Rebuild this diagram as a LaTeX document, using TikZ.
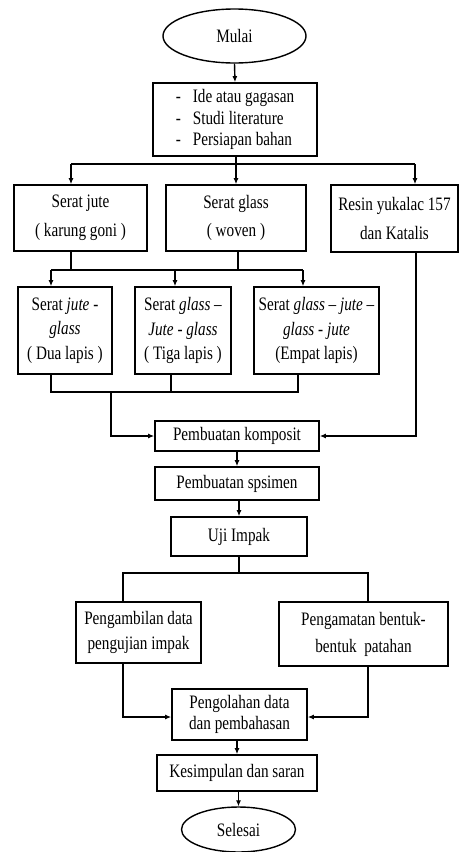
\documentclass[tikz,border=0pt]{standalone}
\usepackage{fontspec}
\setmainfont{Liberation Serif}[FakeStretch=0.8]
\usetikzlibrary{shapes.geometric,arrows.meta}
\begin{document}
\begin{tikzpicture}[x=1pt,y=-1pt,
  every node/.style={font=\fontsize{19}{21.5}\selectfont},
  box/.style={draw,line width=1.6pt,rectangle,inner sep=0pt,align=center},
  oval/.style={draw,line width=1.4pt,ellipse,inner sep=0pt},
  ln/.style={line width=1.4pt},
  arr/.style={line width=1.4pt,-{Latex[length=6pt,width=5pt]}}]
\useasboundingbox (0,0) rectangle (460,852);
\node[oval,minimum width=143pt,minimum height=54pt] (mulai) at (234.5,36) {Mulai};
\node[box,minimum width=164pt,minimum height=73pt,align=left] (ide) at (235,119.5)
  {\makebox[17pt][l]{-}Ide atau gagasan\\\makebox[17pt][l]{-}Studi literature\\\makebox[17pt][l]{-}Persiapan bahan};
\node[box,minimum width=133pt,minimum height=66pt,font=\fontsize{19}{28.5}\selectfont] (jute) at (80.5,218) {Serat jute\\( karung goni )};
\node[box,minimum width=140pt,minimum height=66pt,font=\fontsize{19}{28.5}\selectfont] (glass) at (236,218) {Serat glass\\( woven )};
\node[box,minimum width=127pt,minimum height=67pt,font=\fontsize{19}{28.5}\selectfont] (resin) at (394.5,218.5) {Resin yukalac 157\\dan Katalis};
\node[box,minimum width=94pt,minimum height=87pt,font=\fontsize{19}{24.5}\selectfont] (d1) at (65,330.5)
  {Serat \textit{jute} -\\\textit{glass}\\( Dua lapis )};
\node[box,minimum width=96pt,minimum height=87pt,font=\fontsize{19}{24.5}\selectfont] (d2) at (183,330.5)
  {Serat \textit{glass} –\\\textit{Jute} - \textit{glass}\\( Tiga lapis )};
\node[box,minimum width=125pt,minimum height=87pt,font=\fontsize{19}{24.5}\selectfont] (d3) at (316.5,330.5)
  {Serat \textit{glass} – \textit{jute} –\\\textit{glass} - \textit{jute}\\(Empat lapis)};
\node[box,minimum width=164pt,minimum height=30pt] (komp) at (237,436) {Pembuatan komposit};
\node[box,minimum width=164pt,minimum height=33pt] (spes) at (237,483.5) {Pembuatan spsimen};
\node[box,minimum width=136pt,minimum height=39pt] (uji) at (239,536.5) {Uji Impak};
\node[box,minimum width=125pt,minimum height=61pt,font=\fontsize{19}{25}\selectfont] (ambil) at (138.5,632.5) {Pengambilan data\\pengujian impak};
\node[box,minimum width=169pt,minimum height=64pt,font=\fontsize{19}{27}\selectfont] (amati) at (363.5,634) {Pengamatan bentuk-\\bentuk\ \ patahan};
\node[box,minimum width=135pt,minimum height=51pt] (olah) at (239.5,714.5) {Pengolahan data\\dan pembahasan};
\node[box,minimum width=160pt,minimum height=36pt] (kesim) at (237,773) {Kesimpulan dan saran};
\node[oval,minimum width=114pt,minimum height=45pt] (selesai) at (238.5,829.5) {Selesai};
% top
\draw[arr] (mulai.south) -- (ide.north);
\coordinate (s1) at (236,164);
\coordinate (s1l) at (71,164);
\coordinate (s1r) at (415,164);
\draw[ln] (ide.south -| s1) -- (s1);
\draw[ln] (s1l) -- (s1r);
\draw[arr] (s1l) -- (s1l |- jute.north);
\draw[arr] (s1) -- (s1 |- glass.north);
\draw[arr] (s1r) -- (s1r |- resin.north);
% second split
\coordinate (s2l) at (51,270);
\coordinate (s2m) at (175,270);
\coordinate (s2r) at (303,270);
\draw[ln] (jute.south -| 71,0) -- (71,270);
\draw[ln] (glass.south -| 238,0) -- (238,270);
\draw[ln] (s2l) -- (s2r);
\draw[arr] (s2l) -- (s2l |- d1.north);
\draw[arr] (s2m) -- (s2m |- d2.north);
\draw[arr] (s2r) -- (s2r |- d3.north);
% merge
\coordinate (m1) at (111,392);
\draw[ln] (d1.south -| 51,0) -- (51,392) -- (298,392) -- (d3.south -| 298,0);
\draw[ln] (d2.south -| 171,0) -- (171,392);
\draw[arr] (m1) -- (111,436) -- (komp.west);
\draw[arr] (resin.south -| 416,0) -- (416,436) -- (komp.east);
\draw[arr] (komp.south) -- (spes.north);
\draw[arr] (spes.south -| uji.north) -- (uji.north);
% uji split
\coordinate (s3) at (239,573);
\draw[ln] (uji.south) -- (s3);
\draw[ln] (ambil.north -| 123,0) -- (123,573) -- (368,573) -- (amati.north -| 368,0);
\draw[arr] (ambil.south -| 123,0) -- (123,717) -- (olah.west |- 0,717);
\draw[arr] (amati.south -| 368,0) -- (368,717) -- (olah.east |- 0,717);
\draw[arr] (olah.south -| kesim.north) -- (kesim.north);
\draw[arr] (kesim.south -| selesai.north) -- (selesai.north);
\end{tikzpicture}
\end{document}
